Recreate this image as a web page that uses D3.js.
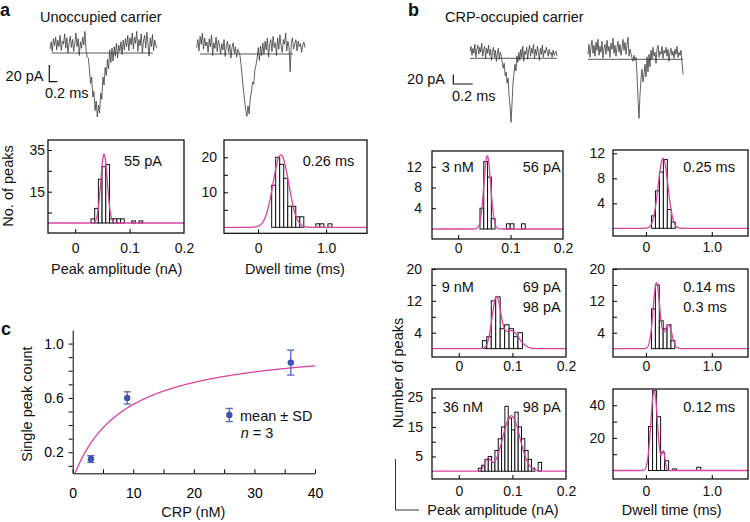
<!DOCTYPE html>
<html><head><meta charset="utf-8">
<script src="https://cdn.jsdelivr.net/npm/d3@7"></script>
<style>
body{margin:0;background:#fff}
svg{display:block}
text{font-family:"Liberation Sans",Arial,Helvetica,sans-serif}
</style>
</head><body>
<script>
// ================= DATA =================
// Example current traces (pA, relative to open-pore baseline), panel a and b
const traceUnocc1 = [5,14,2,18,9,20,4,16,8,22,3,15,11,24,6,19,0,13,21,7,17,2,12,25,8,18,-3,14,6,20,10,27,4,-5,
 -6,-20,-38,-30,-55,-48,-72,-60,-80,-65,-75,-50,-58,-30,-40,-18,-28,-8,-20,4,-12,
 6,-10,8,-4,12,-6,10,2,14,-2,16,4,18,8,22,3,19,10,25,5,20,12,27,2,17,9,24,0,15,22,6,26,11,-4,19,8,23,3,16,10,6];
const traceUnocc2 = [8,18,4,22,12,26,6,20,10,15,2,19,9,24,-2,14,7,21,3,17,11,0,13,5,18,-3,10,16,2,12,-5,8,14,1,9,-4,6,3,-2,
 -15,-30,-45,-58,-70,-78,-65,-75,-55,-48,-35,-38,-20,-14,
 -5,8,-8,10,-2,14,0,16,5,20,-4,12,18,3,22,8,14,-2,20,6,24,10,2,18,12,26,4,16,8,-22,14,20,6,12,18,4,16,9,13,2,11,15,8];
const traceCRP1 = [14,24,6,20,10,28,2,18,26,8,22,12,30,4,16,24,0,20,10,26,6,18,-4,14,22,2,16,-6,10,20,-2,12,4,-8,
 -20,-10,-35,-28,-50,-40,-75,-95,-128,-90,-50,-30,-12,
 -25,5,-8,12,-4,18,2,24,-6,14,8,22,-2,16,26,4,20,10,28,0,18,6,24,12,-4,20,8,26,2,16,10,22,14,4,18,8,12,2,16,6,10,14,4];
const traceCRP2 = [10,30,4,24,38,12,28,6,34,18,40,8,26,14,36,2,22,30,10,38,16,26,4,32,20,42,12,28,6,24,36,14,30,8,22,40,18,34,10,28,44,6,20,12,2,-4,8,-2,4,
 -30,-80,-118,-70,-40,-20,-45,-30,-10,
 -35,5,-25,10,-15,18,0,24,6,14,-8,20,28,4,16,10,26,2,18,12,24,6,20,-4,14,22,8,16,2,20,10,26,4,14,8,18,-6,-30];

// Histograms: bins = [first bin start, bin width]; counts per bin; fit = [amplitude, centre, sigma] per Gaussian
const ampUnoccBins = [0.029, 0.0068];
const ampUnoccCounts = [2,7,21,27,28,2,2,2,2,0,0,1,0,1];
const ampUnoccFit = [[33,0.053,0.006]];
const dwellUnoccBins = [0.2, 0.059];
const dwellUnoccCounts = [12,20,18,14,6,6,3,3,0,0,0,1,1,0,1];
const dwellUnoccFit = [[20.7,0.335,0.115]];

const amp3Bins = [0.0416, 0.0072];
const amp3Counts = [4,13,10,2,0,0,0,1,1,0,0,1];
const amp3Fit = [[14.1,0.0555,0.0065]];
const dwell3Bins = [0.085, 0.06];
const dwell3Counts = [2,6,9,11,3,1];
const dwell3Fit = [[11.2,0.26,0.075]];

const amp9Bins = [0.044, 0.0083];
const amp9Counts = [2,3,12,13,5,6,5,3,4];
const amp9Fit = [[12.5,0.07,0.008],[4.5,0.098,0.014]];
const dwell9Bins = [0.085, 0.059];
const dwell9Counts = [10,16,7,5,6,2];
const dwell9Fit = [[16.5,0.16,0.05],[6,0.34,0.055]];

const amp36Bins = [0.0364, 0.0062];
const amp36Counts = [1,2,4,5,3,7,11,15,22,18,14,20,15,11,7,4,1,0,3];
const amp36Fit = [[18.8,0.098,0.016],[4,0.054,0.006]];
const dwell36Bins = [0.04, 0.061];
const dwell36Counts = [27,49,33,11,6,0,1,0,0,0,0,0,2];
const dwell36Fit = [[49,0.125,0.05],[11,0.265,0.025]];

// Tick values
const ampXTicks = [0, 0.1];
const ampXLabels = [0, 0.1, 0.2];
const dwellXTicks = [0, 1];
const dwellXLabels = [0, 1];

// Panel c
const crpConc = [3, 9, 36];
const peakMean = [0.15, 0.60, 0.86];
const peakSD = [0.025, 0.045, 0.092];
const crpFit = [1.01, 8.3]; // [Bmax, Kd]
const cXTicks = [0,5,10,15,20,25,30,35,40];
const cXLabels = [0,10,20,30,40];
const cYTicks = [0.1,0.2,0.3,0.4,0.5,0.6,0.7,0.8,0.9,1.0];
const cYLabels = [0.2,0.6,1.0];

// ================= DRAW =================
const FONT = '"Liberation Sans",Arial,Helvetica,sans-serif';
const PINK = "#d8449f";
const BLUE = "#3f51b3";
const EBLUE = "#5264c6";
const svg = d3.select("body").append("svg").attr("width",750).attr("height",522);

function txt(s, x, y, o = {}) {
  const t = svg.append("text").attr("x", x).attr("y", y).text(s)
    .attr("font-size", o.fs || 14.5).attr("fill", "#111")
    .attr("text-anchor", o.anchor || "start");
  if (o.bold) t.attr("font-weight", "bold");
  if (o.rot) t.attr("transform", `rotate(-90,${x},${y})`);
  return t;
}

function drawTrace(data, x0, x1, yBase, k, lx0, lx1) {
  const x = d3.scaleLinear().domain([0, data.length - 1]).range([x0, x1]);
  const y = d3.scaleLinear().domain([0, 100]).range([yBase, yBase - 100 * k]);
  svg.append("line").attr("x1", lx0).attr("x2", lx1).attr("y1", y(0)).attr("y2", y(0))
    .attr("stroke", "#444").attr("stroke-width", 0.9);
  svg.append("path").datum(data)
    .attr("d", d3.line().x((d, i) => x(i)).y(d => y(d)))
    .attr("fill", "none").attr("stroke", "#3a3a3a").attr("stroke-width", 0.8).attr("stroke-linejoin","round");
}

let clipN = 0;
const fmtX = d => d === 0 ? "0" : d3.format(".1f")(d);
function styleAx(g) {
  g.attr("font-size", 14).attr("font-family", FONT);
  g.select(".domain").remove();
  g.selectAll("line").attr("stroke", "#000").attr("stroke-width", 1);
  g.selectAll("text").attr("fill", "#111");
}

function drawHist(c) {
  const x = d3.scaleLinear().domain(c.xd).range([c.x0, c.x1]);
  const y = d3.scaleLinear().domain(c.yd).range([c.y1, c.y0]);
  const id = "clip" + (clipN++);
  svg.append("clipPath").attr("id", id).append("rect")
    .attr("x", c.x0).attr("y", c.y0).attr("width", c.x1 - c.x0).attr("height", c.y1 - c.y0);
  const pg = svg.append("g").attr("clip-path", `url(#${id})`);
  const bars = c.counts.map((n, i) => ({a: c.bins[0] + i * c.bins[1], b: c.bins[0] + (i + 1) * c.bins[1], n}))
    .filter(d => d.n > 0);
  pg.selectAll("rect").data(bars).join("rect")
    .attr("x", d => x(d.a)).attr("width", d => x(d.b) - x(d.a))
    .attr("y", d => y(d.n)).attr("height", d => y(0) - y(d.n))
    .attr("fill", "#fff").attr("stroke", "#111").attr("stroke-width", 1);
  const fitY = v => d3.sum(c.fit, p => p[0] * Math.exp(-((v - p[1]) ** 2) / (2 * p[2] ** 2)));
  const xs = d3.range(0, 801).map(i => c.xd[0] + (c.xd[1] - c.xd[0]) * i / 800);
  pg.append("path").datum(xs)
    .attr("d", d3.line().x(v => x(v)).y(v => y(fitY(v))))
    .attr("fill", "none").attr("stroke", PINK).attr("stroke-width", 1.3);
  svg.append("rect").attr("x", c.x0).attr("y", c.y0).attr("width", c.x1 - c.x0).attr("height", c.y1 - c.y0)
    .attr("fill", "none").attr("stroke", "#000").attr("stroke-width", 1.2);
  svg.append("g").attr("transform", `translate(${c.x0},0)`)
    .call(d3.axisRight(y).tickValues(c.yticks).tickSize(4).tickFormat("")).call(styleAx);
  svg.append("g").attr("transform", `translate(${c.x0},0)`)
    .call(d3.axisLeft(y).tickValues(c.ylabels).tickSize(0).tickPadding(c.ypad).tickFormat(d3.format("d"))).call(styleAx);
  svg.append("g").attr("transform", `translate(0,${c.y1})`)
    .call(d3.axisTop(x).tickValues(c.xticks).tickSize(4).tickFormat("")).call(styleAx);
  svg.append("g").attr("transform", `translate(0,${c.y1})`)
    .call(d3.axisBottom(x).tickValues(c.xlabels).tickSize(0).tickPadding(c.xpad).tickFormat(fmtX)).call(styleAx);
}

// ---- panel labels & titles ----
txt("a", 0, 16, {bold: true, fs: 18});
txt("b", 408, 16, {bold: true, fs: 18});
txt("c", 1, 335, {bold: true, fs: 18});
txt("Unoccupied carrier", 40, 21.5);
txt("CRP-occupied carrier", 445, 22);

// ---- traces ----
drawTrace(traceUnocc1, 50, 157, 53, 0.8, 51.7, 153);
drawTrace(traceUnocc2, 196.7, 305, 54, 0.8, 200, 293);
drawTrace(traceCRP1, 470, 557, 58.3, 0.5, 470, 556.7);
drawTrace(traceCRP2, 588, 683, 59.3, 0.5, 588, 683);

// scale bars
svg.append("path").attr("d", "M49.3,65V81.7H57.3").attr("fill","none").attr("stroke","#111").attr("stroke-width",1.2);
txt("20 pA", 43.5, 81, {anchor: "end"});
txt("0.2 ms", 45, 97.5);
svg.append("path").attr("d", "M453.3,74.5V84H472.7").attr("fill","none").attr("stroke","#111").attr("stroke-width",1.2);
txt("20 pA", 445, 83.5, {anchor: "end"});
txt("0.2 ms", 452, 101);

// ---- histograms ----
const ampD = [-0.05, 0.2], dwD = [-0.5, 1.6], dwD2 = [-0.5, 1.55];
drawHist({x0:48, x1:184, y0:140, y1:233, xd:ampD, yd:[-4.8,39.8], bins:ampUnoccBins, counts:ampUnoccCounts, fit:ampUnoccFit,
  yticks:[5,15,25,35], ylabels:[15,35], ypad:3, xticks:ampXTicks, xlabels:ampXLabels, xpad:10});
drawHist({x0:224, x1:367, y0:140, y1:233.3, xd:dwD, yd:[-1.71,24.94], bins:dwellUnoccBins, counts:dwellUnoccCounts, fit:dwellUnoccFit,
  yticks:[5,10,15,20], ylabels:[10,20], ypad:7, xticks:dwellXTicks, xlabels:dwellXLabels, xpad:9.8});
drawHist({x0:432, x1:563, y0:151, y1:239, xd:ampD, yd:[-1.93,15.03], bins:amp3Bins, counts:amp3Counts, fit:amp3Fit,
  yticks:[4,8,12], ylabels:[4,8,12], ypad:10, xticks:ampXTicks, xlabels:ampXLabels, xpad:3.6});
drawHist({x0:613, x1:748, y0:150, y1:236, xd:dwD2, yd:[-1.23,12.53], bins:dwell3Bins, counts:dwell3Counts, fit:dwell3Fit,
  yticks:[4,8,12], ylabels:[4,8,12], ypad:8, xticks:dwellXTicks, xlabels:dwellXLabels, xpad:6.5});
drawHist({x0:432, x1:566, y0:269, y1:357, xd:ampD, yd:[-2.1,20], bins:amp9Bins, counts:amp9Counts, fit:amp9Fit,
  yticks:[4,8,12,16,20], ylabels:[4,12,20], ypad:10, xticks:ampXTicks, xlabels:ampXLabels, xpad:4});
drawHist({x0:613, x1:748, y0:269, y1:357, xd:dwD2, yd:[-2.1,20], bins:dwell9Bins, counts:dwell9Counts, fit:dwell9Fit,
  yticks:[4,8,12,16,20], ylabels:[4,12,20], ypad:8, xticks:dwellXTicks, xlabels:dwellXLabels, xpad:4});
drawHist({x0:432, x1:566, y0:389, y1:479, xd:ampD, yd:[-2.64,27.86], bins:amp36Bins, counts:amp36Counts, fit:amp36Fit,
  yticks:[5,10,15,20,25], ylabels:[5,15,25], ypad:9, xticks:ampXTicks, xlabels:ampXLabels, xpad:7});
drawHist({x0:613, x1:748, y0:389, y1:479, xd:dwD2, yd:[-5.2,50], bins:dwell36Bins, counts:dwell36Counts, fit:dwell36Fit,
  yticks:[10,20,30,40], ylabels:[20,40], ypad:8, xticks:dwellXTicks, xlabels:dwellXLabels, xpad:7});

// in-plot labels
txt("55 pA", 124, 166);
txt("0.26 ms", 302.7, 166);
txt("3 nM", 441.7, 171.5);
txt("56 pA", 560.7, 171.5, {anchor: "end"});
txt("0.25 ms", 683.3, 171.7);
txt("9 nM", 441.7, 291.7);
txt("69 pA", 560.7, 291.7, {anchor: "end"});
txt("98 pA", 560.7, 311.7, {anchor: "end"});
txt("0.14 ms", 683.3, 291.7);
txt("0.3 ms", 683.3, 311.7);
txt("36 nM", 442.7, 411.7);
txt("98 pA", 560.7, 411.7, {anchor: "end"});
txt("0.12 ms", 683.3, 411.7);

// axis titles
txt("No. of peaks", 13, 186, {anchor: "middle", rot: true});
txt("Peak amplitude (nA)", 116.7, 274, {anchor: "middle"});
txt("Dwell time (ms)", 295, 274, {anchor: "middle"});
txt("Number of peaks", 403, 373, {anchor: "middle", rot: true});
txt("Peak amplitude (nA)", 493, 514.5, {anchor: "middle"});
txt("Dwell time (ms)", 671.7, 514.5, {anchor: "middle"});
svg.append("path").attr("d", "M395.5,459V510H419").attr("fill","none").attr("stroke","#333").attr("stroke-width",1);

// ---- panel c ----
const cx = d3.scaleLinear().domain([0, 40]).range([72.7, 315]);
const cy = d3.scaleLinear().domain([0.045, 1.1]).range([473.3, 330]);
svg.append("clipPath").attr("id", "cclip").append("rect").attr("x", 72.7).attr("y", 330).attr("width", 315 - 72.7).attr("height", 473.3 - 330);
const gy = svg.append("g").attr("transform", "translate(72.7,0)")
  .call(d3.axisLeft(cy).tickValues(cYTicks).tickSize(4).tickSizeOuter(0).tickPadding(5)
    .tickFormat(d => cYLabels.some(v => Math.abs(v - d) < 1e-9) ? d3.format(".1f")(d) : ""));
gy.attr("font-size", 14).attr("font-family", FONT);
gy.selectAll("line,path").attr("stroke", "#000");
const gx = svg.append("g").attr("transform", "translate(0,473.3)")
  .call(d3.axisBottom(cx).tickValues(cXTicks).tickSizeInner(-4).tickSizeOuter(0).tickPadding(14.5)
    .tickFormat(d => cXLabels.includes(d) ? d3.format("d")(d) : ""));
gx.attr("font-size", 14).attr("font-family", FONT);
gx.selectAll("line,path").attr("stroke", "#000");

const cxs = d3.range(0, 401).map(i => i * 0.1);
svg.append("path").datum(cxs).attr("clip-path", "url(#cclip)")
  .attr("d", d3.line().x(v => cx(v)).y(v => cy(crpFit[0] * v / (crpFit[1] + v))))
  .attr("fill", "none").attr("stroke", PINK).attr("stroke-width", 1.3);

const pts = crpConc.map((c, i) => ({c, m: peakMean[i], s: peakSD[i]}));
const eg = svg.append("g");
eg.selectAll("line.v").data(pts).join("line").attr("x1", d => cx(d.c)).attr("x2", d => cx(d.c))
  .attr("y1", d => cy(d.m - d.s)).attr("y2", d => cy(d.m + d.s)).attr("stroke", EBLUE).attr("stroke-width", 1.3);
eg.selectAll("line.t").data(pts).join("line").attr("x1", d => cx(d.c) - 3.6).attr("x2", d => cx(d.c) + 3.6)
  .attr("y1", d => cy(d.m + d.s)).attr("y2", d => cy(d.m + d.s)).attr("stroke", EBLUE).attr("stroke-width", 1.3);
eg.selectAll("line.b").data(pts).join("line").attr("x1", d => cx(d.c) - 3.6).attr("x2", d => cx(d.c) + 3.6)
  .attr("y1", d => cy(d.m - d.s)).attr("y2", d => cy(d.m - d.s)).attr("stroke", EBLUE).attr("stroke-width", 1.3);
eg.selectAll("circle").data(pts).join("circle").attr("cx", d => cx(d.c)).attr("cy", d => cy(d.m)).attr("r", 3.2).attr("fill", BLUE);

// legend
svg.append("path").attr("d", "M225.7,408.3H232.9M229.3,408.3V421.7M225.7,421.7H232.9").attr("stroke", EBLUE).attr("stroke-width", 1.3).attr("fill","none");
svg.append("circle").attr("cx", 229.3).attr("cy", 415).attr("r", 3.2).attr("fill", BLUE);
txt("mean ± SD", 240, 420.5);
const nt = txt("", 240.7, 438);
nt.append("tspan").attr("font-style", "italic").text("n");
nt.append("tspan").text(" = 3");

txt("Single peak count", 32, 404, {anchor: "middle", rot: true});
txt("CRP (nM)", 193.3, 517, {anchor: "middle"});
</script>
</body></html>
